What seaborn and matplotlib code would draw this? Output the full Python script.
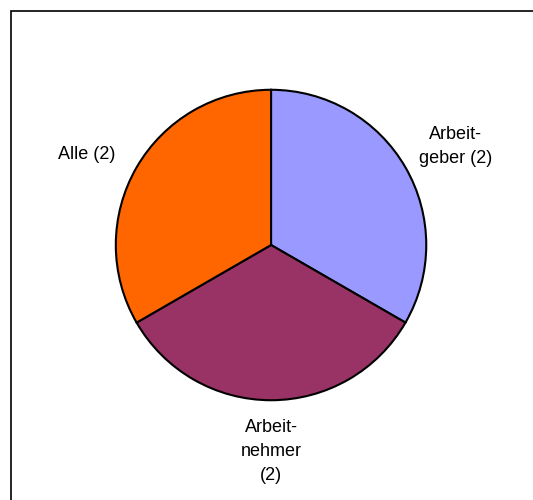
import matplotlib
matplotlib.use("Agg")
import matplotlib.pyplot as plt
import seaborn as sns
from matplotlib.patches import Rectangle

labels = ["Arbeit-\ngeber (2)", "Arbeit-\nnehmer\n(2)", "Alle (2)"]
values = [2, 2, 2]
colors = ["#9999FF", "#993366", "#FF6600"]

sns.set_style("white")
plt.rcParams['font.family'] = ['Liberation Sans', 'DejaVu Sans']

fig = plt.figure(figsize=(5.33, 5.0), dpi=100)
ax = fig.add_axes([0.2158, 0.198, 0.5854, 0.624])

wedges, _ = ax.pie(values, colors=colors, startangle=90, counterclock=False,
                   wedgeprops=dict(edgecolor="black", linewidth=1.5))
ax.set_xlim(-1.005, 1.005)
ax.set_ylim(-1.005, 1.005)
ax.set_aspect("equal")
ax.axis("off")

# label positions relative to pie (radius 1)
label_pos = [(1.19, 0.635), (0.0, -1.33), (-1.19, 0.58)]
for lab, (x, y) in zip(labels, label_pos):
    ax.text(x, y, lab, ha="center", va="center", fontsize=13,
            linespacing=1.55, color="black")

# frame around the chart area
fig.patches.append(Rectangle((11 / 533, -0.1), 1.2, (500 - 11) / 500 + 0.1,
                             transform=fig.transFigure, fill=False,
                             edgecolor="black", linewidth=1.2))

fig.savefig("out.png", dpi=100)
